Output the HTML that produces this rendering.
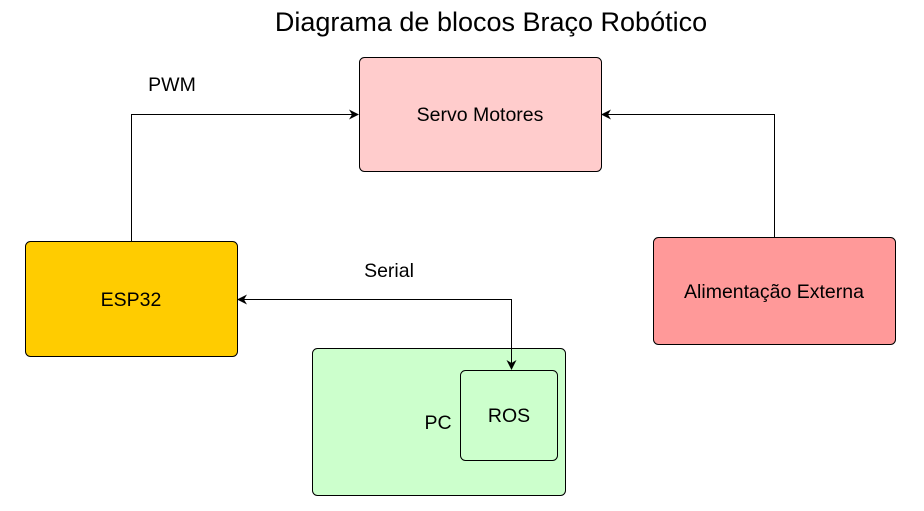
<!DOCTYPE html>
<html><head><style>body{margin:0;background:#fff}</style></head><body>
<svg width="924" height="506" xmlns="http://www.w3.org/2000/svg" font-family="Liberation Sans, sans-serif">
<defs><marker id="a" markerWidth="10" markerHeight="10" refX="9" refY="5" orient="auto" markerUnits="userSpaceOnUse"><path d="M0,0 L10,5 L0,10 L3,5 Z" fill="#000"/></marker></defs>
<text x="491" y="31" font-size="27" text-anchor="middle">Diagrama de blocos Braço Robótico</text>
<rect x="359.5" y="57.5" width="242" height="114" rx="5" fill="#ffcccc" stroke="#000"/>
<text x="480" y="121" font-size="19.5" text-anchor="middle">Servo Motores</text>
<rect x="25.5" y="241.5" width="212" height="115" rx="5" fill="#ffcc00" stroke="#000"/>
<text x="131" y="306" font-size="19.5" text-anchor="middle">ESP32</text>
<rect x="653.5" y="237.5" width="242" height="107" rx="5" fill="#ff9999" stroke="#000"/>
<text x="774" y="298" font-size="19.5" text-anchor="middle">Alimentação Externa</text>
<rect x="312.5" y="348.5" width="253" height="147" rx="5" fill="#ccffcc" stroke="#000"/>
<text x="438" y="429" font-size="19.5" text-anchor="middle">PC</text>
<rect x="460.5" y="370.5" width="97" height="90" rx="5" fill="#ccffcc" stroke="#000"/>
<text x="509" y="422" font-size="19.5" text-anchor="middle">ROS</text>
<path d="M131.5,241 V114.5 H358" fill="none" stroke="#000" marker-end="url(#a)"/>
<path d="M774.5,237 V114.5 H602" fill="none" stroke="#000" marker-end="url(#a)"/>
<path d="M511.5,369 V299.5 H238" fill="none" stroke="#000" marker-end="url(#a)"/>
<path d="M511.5,300 V369" fill="none" stroke="#000" marker-end="url(#a)"/>
<text x="172" y="91" font-size="19.5" text-anchor="middle">PWM</text>
<text x="389" y="277" font-size="19.5" text-anchor="middle">Serial</text>
</svg>
</body></html>
